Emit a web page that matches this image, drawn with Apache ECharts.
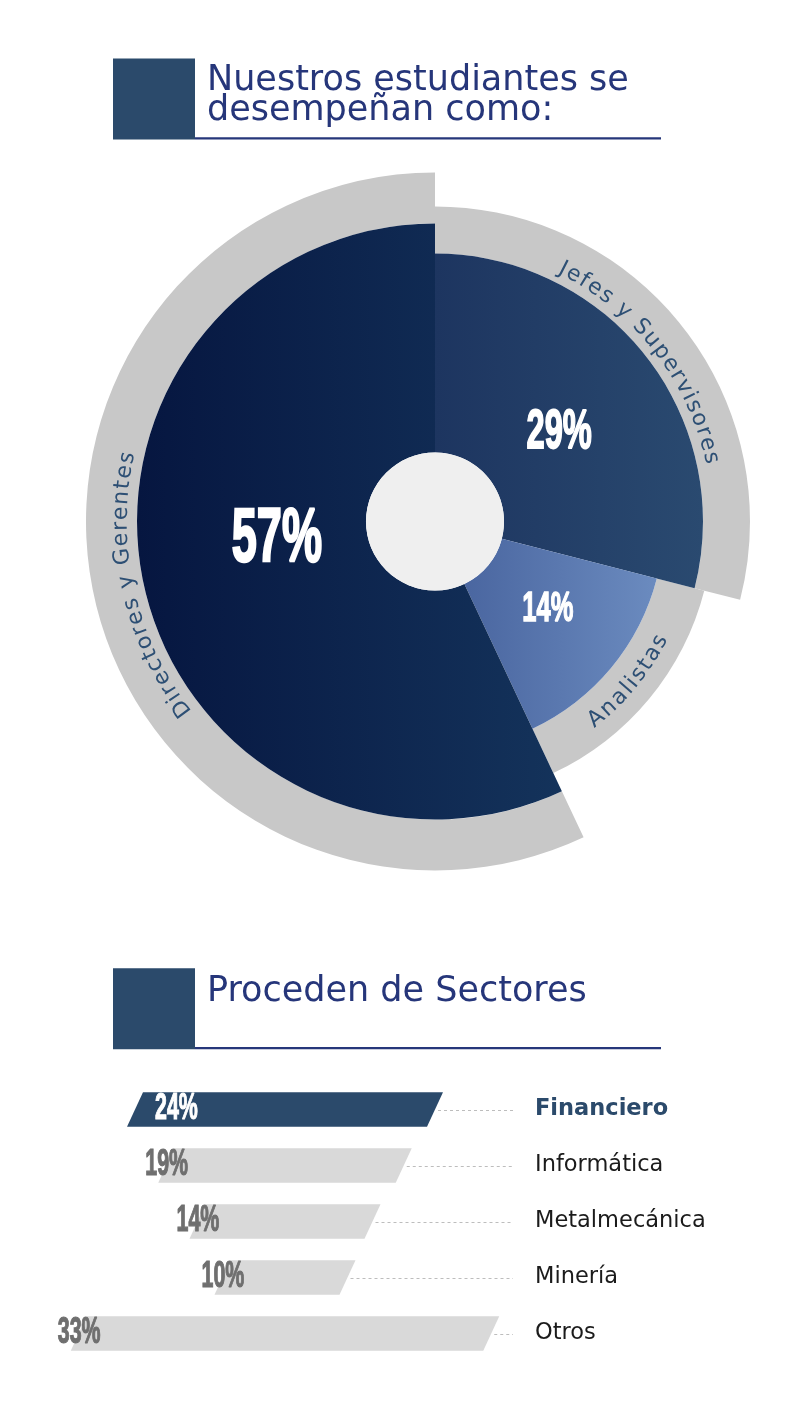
<!DOCTYPE html>
<html>
<head>
<meta charset="utf-8">
<script src="https://cdn.jsdelivr.net/npm/echarts@6/dist/echarts.min.js"></script>
<style>
  html, body { margin: 0; padding: 0; background: #ffffff; }
  #chart { width: 812px; height: 1412px; }
</style>
</head>
<body>
<div id="chart"></div>
<script>
// Roles our students hold (share of total, %), clockwise from 12 o'clock
const roleNames = ['Jefes y Supervisores', 'Analistas', 'Directores y Gerentes'];
const roleShares = [29, 14, 57];

// Sectors they come from (share of total, %)
const sectorNames = ['Financiero', 'Informática', 'Metalmecánica', 'Minería', 'Otros'];
const sectorShares = [24, 19, 14, 10, 33];
const highlightSector = 'Financiero';

// Titles
const titleRoles = ['Nuestros estudiantes se', 'desempeñan como:'];
const titleSectors = 'Proceden de Sectores';

// ---- styling ----
const NAVY = '#26367a';
const STEEL = '#2b4a6b';
const BAND = '#c8c8c8';
const CURVE_TEXT = '#2d4f74';
const CONDENSED = '"Liberation Sans Narrow", "Liberation Sans", sans-serif';
const CX = 435, CY = 521.5, HOLE = 69;

// per role: slice outer radius, grey band outer radius, gradient, label size and nudge,
// and whether the curved name reads with letters pointing inward
const roleStyle = [
  { r: 268, band: 315, from: '#1d3560', to: '#2a4a70', px: 55, nudge: [-9, 15], flip: false, textR: 283 },
  { r: 229, band: 278, from: '#4a66a0', to: '#6b8bbf', px: 43, nudge: [-2, -7], flip: true, textR: 255 },
  { r: 298, band: 349, from: '#061640', to: '#14335b', px: 76, nudge: [21, -21], flip: false, textR: 314 }
];

const measureCtx = document.createElement('canvas').getContext('2d');
function textWidth(str, font) {
  measureCtx.font = font;
  return measureCtx.measureText(str).width;
}
// horizontal squeeze that gives the percentage figures their tall condensed look
const condense = 118.8 / textWidth('00%', 'bold 100px ' + CONDENSED);

function pieLayer(idx, inner, outer, color) {
  return {
    type: 'pie',
    silent: true,
    animation: false,
    center: [CX, CY],
    radius: [inner, outer],
    startAngle: 90,
    clockwise: true,
    avoidLabelOverlap: false,
    label: { show: false },
    labelLine: { show: false },
    emphasis: { disabled: true },
    itemStyle: { borderWidth: 0 },
    data: roleNames.map((name, j) => ({
      name: name,
      value: roleShares[j],
      itemStyle: { color: j === idx ? color : 'rgba(0,0,0,0)' }
    }))
  };
}

const bandSeries = roleNames.map((n, j) => pieLayer(j, roleStyle[j].r, roleStyle[j].band, BAND));
const sliceSeries = roleNames.map((n, j) => pieLayer(j, HOLE, roleStyle[j].r,
  new echarts.graphic.LinearGradient(0, 0, 1, 0, [
    { offset: 0, color: roleStyle[j].from },
    { offset: 1, color: roleStyle[j].to }
  ])));

const SLANT = 16;        // horizontal lean of each bar, px
const BAR_FILL = 0.615;  // bar thickness as a share of the row

const barSeries = {
  type: 'custom',
  coordinateSystem: 'cartesian2d',
  silent: true,
  animation: false,
  encode: { x: 0, y: 1 },
  data: sectorShares.map((v, i) => [v, i]),
  renderItem: function (params, api) {
    const v = api.value(0), i = api.value(1);
    const a = api.coord([-v / 2, i]);
    const b = api.coord([v / 2, i]);
    const h = api.size([0, 1])[1] * BAR_FILL;
    const yc = a[1], top = yc - h / 2, bot = yc + h / 2, k = SLANT / 2;
    const hl = sectorNames[i] === highlightSector;
    const right = params.coordSys.x + params.coordSys.width;
    const ly = Math.round(yc) + 0.5;
    const ink = hl ? '#ffffff' : '#6f6f6f';
    return {
      type: 'group',
      children: [
        {
          type: 'line',
          shape: { x1: b[0] + 3, y1: ly, x2: right - 12, y2: ly },
          style: { stroke: '#bdbdbd', lineWidth: 1, lineDash: [3, 3] }
        },
        {
          type: 'polygon',
          shape: { points: [[a[0] - k, bot], [a[0] + k, top], [b[0] + k, top], [b[0] - k, bot]] },
          style: { fill: hl ? STEEL : '#d9d9d9' }
        },
        {
          type: 'text',
          x: hl ? a[0] + 20 : a[0] - 21,
          y: yc,
          scaleX: condense,
          style: {
            text: v + '%',
            font: 'bold 36px ' + CONDENSED,
            fill: ink,
            stroke: ink,
            lineWidth: 1.2,
            textAlign: 'left',
            textVerticalAlign: 'middle'
          }
        }
      ]
    };
  }
};

const chart = echarts.init(document.getElementById('chart'));
chart.setOption({
  animation: false,
  backgroundColor: '#ffffff',
  grid: { left: 45, top: 1081.5, width: 480, height: 280, containLabel: false },
  xAxis: { type: 'value', min: -19.2, max: 19.2, show: false },
  yAxis: {
    type: 'category',
    data: sectorNames,
    inverse: true,
    position: 'right',
    axisLine: { show: false },
    axisTick: { show: false },
    splitLine: { show: false },
    axisLabel: {
      margin: 10,
      align: 'left',
      fontSize: 22.5,
      fontFamily: '"DejaVu Sans", sans-serif',
      color: '#1b1b1b',
      formatter: function (name) { return name === highlightSector ? '{hl|' + name + '}' : name; },
      rich: {
        hl: { fontSize: 22.5, fontWeight: 'bold', color: STEEL, fontFamily: '"DejaVu Sans", sans-serif' }
      }
    }
  },
  series: bandSeries.concat(sliceSeries, [barSeries])
});

// geometry of each coloured slice, as laid out by the pie series
function sliceGeometry(j) {
  let l = null;
  try {
    l = chart.getModel().getSeriesByIndex(3 + j).getData().getItemLayout(j);
  } catch (e) { l = null; }
  if (l && isFinite(l.startAngle)) {
    return { mid: (l.startAngle + l.endAngle) / 2, cx: l.cx, cy: l.cy, r0: l.r0, r: l.r };
  }
  const total = roleShares.reduce((s, x) => s + x, 0);
  const before = roleShares.slice(0, j).reduce((s, x) => s + x, 0);
  const mid = -Math.PI / 2 + (before + roleShares[j] / 2) / total * 2 * Math.PI;
  return { mid: mid, cx: CX, cy: CY, r0: HOLE, r: roleStyle[j].r };
}

// letters laid one by one along an arc; angle measured clockwise from 12 o'clock
function arcText(text, cx, cy, r, midDeg, flip, font, spacing, color) {
  const chars = Array.from(text);
  const widths = chars.map(ch => textWidth(ch, font));
  const total = widths.reduce((s, w) => s + w, 0) + spacing * (chars.length - 1);
  const dir = flip ? -1 : 1;
  let pos = -total / 2;
  return chars.map((ch, i) => {
    const arcPos = pos + widths[i] / 2;
    pos += widths[i] + spacing;
    const t = (midDeg * Math.PI / 180) + dir * arcPos / r;
    return {
      type: 'text',
      z: 100,
      silent: true,
      x: cx + r * Math.sin(t),
      y: cy - r * Math.cos(t),
      rotation: flip ? Math.PI - t : -t,
      style: {
        text: ch,
        font: font,
        fill: color,
        textAlign: 'center',
        textVerticalAlign: 'middle'
      }
    };
  });
}

const graphics = [
  // header: roles
  { type: 'rect', z: 100, shape: { x: 113, y: 58.5, width: 82, height: 81 }, style: { fill: STEEL } },
  { type: 'rect', z: 100, shape: { x: 195, y: 137.3, width: 466, height: 2.2 }, style: { fill: NAVY } },
  { type: 'text', z: 100, x: 207, y: 81, style: { text: titleRoles[0], font: '35px "DejaVu Sans"', fill: NAVY, textVerticalAlign: 'middle' } },
  { type: 'text', z: 100, x: 207, y: 111, style: { text: titleRoles[1], font: '35px "DejaVu Sans"', fill: NAVY, textVerticalAlign: 'middle' } },
  // header: sectors
  { type: 'rect', z: 100, shape: { x: 113, y: 968.3, width: 82, height: 81 }, style: { fill: STEEL } },
  { type: 'rect', z: 100, shape: { x: 195, y: 1047.1, width: 466, height: 2.2 }, style: { fill: NAVY } },
  { type: 'text', z: 100, x: 207, y: 992, style: { text: titleSectors, font: '35px "DejaVu Sans"', fill: NAVY, textVerticalAlign: 'middle' } },
  // centre of the ring
  { type: 'circle', z: 100, shape: { cx: CX, cy: CY, r: HOLE }, style: { fill: '#efefef' } }
];

roleNames.forEach((name, j) => {
  const g = sliceGeometry(j);
  const st = roleStyle[j];
  const rm = (g.r0 + g.r) / 2;
  graphics.push({
    type: 'text',
    z: 100,
    silent: true,
    x: g.cx + rm * Math.cos(g.mid) + st.nudge[0],
    y: g.cy + rm * Math.sin(g.mid) + st.nudge[1],
    scaleX: condense,
    style: {
      text: roleShares[j] + '%',
      font: 'bold ' + st.px + 'px ' + CONDENSED,
      fill: '#ffffff',
      stroke: '#ffffff',
      lineWidth: st.px / 30,
      textAlign: 'center',
      textVerticalAlign: 'middle'
    }
  });
  const midDeg = g.mid * 180 / Math.PI + 90;
  arcText(name, g.cx, g.cy, st.textR, midDeg, st.flip, '22px "DejaVu Sans"', 1.8, CURVE_TEXT)
    .forEach(el => graphics.push(el));
});

chart.setOption({ graphic: { elements: graphics } });
</script>
</body>
</html>
